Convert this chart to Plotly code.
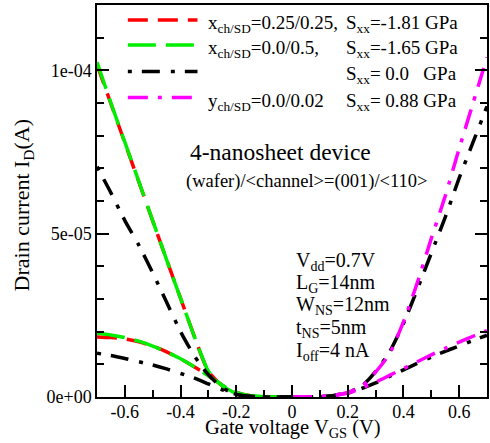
import plotly.graph_objects as go

# ---------------- data ----------------
vgs_left = [-0.70, -0.65, -0.60, -0.55, -0.50, -0.45, -0.40, -0.35, -0.30, -0.25, -0.20, -0.15, -0.10, -0.05, 0.0]
vgs_right = [0.0, 0.05, 0.10, 0.15, 0.20, 0.25, 0.30, 0.35, 0.40, 0.45, 0.50, 0.55, 0.60, 0.65, 0.70]

# x_ch/SD = 0.25/0.25 (red)
red_sat = [1.017e-4, 8.98e-5, 7.78e-5, 6.59e-5, 5.39e-5, 4.2e-5, 3.02e-5, 1.84e-5, 7.8e-6, 3.4e-6, 1.1e-6, 3e-7, 6e-8, 1e-8, 0.0]
red_lin = [1.84e-5, 1.82e-5, 1.78e-5, 1.69e-5, 1.56e-5, 1.38e-5, 1.17e-5, 9.2e-6, 6.5e-6, 3.6e-6, 1.4e-6, 4e-7, 8e-8, 1e-8, 0.0]
# x_ch/SD = 0.0/0.5 (green)
green_sat = [1.025e-4, 9.0e-5, 7.8e-5, 6.6e-5, 5.4e-5, 4.2e-5, 3.02e-5, 1.84e-5, 7.9e-6, 3.4e-6, 1.1e-6, 3e-7, 6e-8, 1e-8, 0.0]
green_lin = [1.95e-5, 1.9e-5, 1.82e-5, 1.71e-5, 1.56e-5, 1.38e-5, 1.17e-5, 9.2e-6, 6.5e-6, 3.6e-6, 1.4e-6, 4e-7, 8e-8, 1e-8, 0.0]
# unstrained (black)
black_sat_left = [7.05e-5, 6.25e-5, 5.4e-5, 4.65e-5, 3.8e-5, 2.9e-5, 2.0e-5, 1.25e-5, 6.8e-6, 2.8e-6, 8e-7, 2e-7, 4e-8, 1e-8, 0.0]
black_lin_left = [1.34e-5, 1.27e-5, 1.18e-5, 1.08e-5, 9.8e-6, 8.6e-6, 7.2e-6, 5.8e-6, 4.0e-6, 2.2e-6, 8e-7, 2e-7, 4e-8, 1e-8, 0.0]
black_sat_right = [0.0, 1e-8, 1e-7, 5e-7, 1.4e-6, 3.3e-6, 7.8e-6, 1.38e-5, 2.25e-5, 3.3e-5, 4.4e-5, 5.5e-5, 6.7e-5, 7.8e-5, 8.9e-5]
black_lin_right = [0.0, 1e-8, 1e-7, 4e-7, 1.2e-6, 2.6e-6, 4.3e-6, 6.3e-6, 8.3e-6, 1.03e-5, 1.22e-5, 1.4e-5, 1.56e-5, 1.73e-5, 1.89e-5]
# y_ch/SD = 0.0/0.02 (magenta)
mag_sat = [0.0, 1e-8, 1e-7, 5e-7, 1.4e-6, 3.2e-6, 7.6e-6, 1.32e-5, 2.3e-5, 3.5e-5, 4.85e-5, 6.15e-5, 7.6e-5, 9.0e-5, 1.04e-4]
mag_lin = [0.0, 1e-8, 1e-7, 4e-7, 1.2e-6, 2.7e-6, 4.5e-6, 6.6e-6, 8.7e-6, 1.08e-5, 1.29e-5, 1.49e-5, 1.68e-5, 1.86e-5, 2.03e-5]

x_tickvals = [-0.6, -0.4, -0.2, 0.0, 0.2, 0.4, 0.6]
x_ticktext = ["-0.6", "-0.4", "-0.2", "0", "0.2", "0.4", "0.6"]
y_tickvals = [0.0, 5e-5, 1e-4]
y_ticktext = ["0e+00", "5e-05", "1e-04"]

legend_left = ["x<sub>ch/SD</sub>=0.25/0.25,", "x<sub>ch/SD</sub>=0.0/0.5,", "", "y<sub>ch/SD</sub>=0.0/0.02"]
legend_right = ["S<sub>xx</sub>=-1.81 GPa", "S<sub>xx</sub>=-1.65 GPa", "S<sub>xx</sub>= 0.0   GPa", "S<sub>xx</sub>= 0.88 GPa"]
params = ["V<sub>dd</sub>=0.7V", "L<sub>G</sub>=14nm", "W<sub>NS</sub>=12nm", "t<sub>NS</sub>=5nm", "I<sub>off</sub>=4 nA"]

# ---------------- styles ----------------
RED = "#ff0000"
GREEN = "#00ee00"
BLACK = "#000000"
MAG = "#ff00ff"
DASH_RED = "20px,10px"
DASH_GREEN = "28px,10px"
DASH_BLACK = "4px,10px,18px,11px"
DASH_MAG = "20px,10px,4px,10px"
LW = 3.5
FONT = "Liberation Serif"

fig = go.Figure()

def add(x, y, color, dash):
    fig.add_trace(go.Scatter(x=x, y=y, mode="lines", line=dict(color=color, width=LW, dash=dash, shape="spline", smoothing=0.6),
                             showlegend=False, hoverinfo="skip"))

vgs_full = vgs_left + vgs_right[1:]
add(vgs_left, red_sat, RED, DASH_RED)
add(vgs_left, red_lin, RED, DASH_RED)
add(vgs_left, green_sat, GREEN, DASH_GREEN)
add(vgs_left, green_lin, GREEN, DASH_GREEN)
add(vgs_full, black_sat_left + black_sat_right[1:], BLACK, DASH_BLACK)
add(vgs_full, black_lin_left + black_lin_right[1:], BLACK, DASH_BLACK)
add(vgs_right, mag_sat, MAG, DASH_MAG)
add(vgs_right, mag_lin, MAG, DASH_MAG)

# plot area in pixels: x 97..489, y 5..397
L, R, T, B = 97, 489, 5, 397
def px(x):
    return (x - L) / (R - L)
def py(y):
    return (B - y) / (B - T)

shapes = []
annotations = []
rows_y = [20, 45, 71.5, 97.5]
colors = [RED, GREEN, BLACK, MAG]
dashes = [DASH_RED, DASH_GREEN, DASH_BLACK, DASH_MAG]
for i in range(4):
    shapes.append(dict(type="line", xref="paper", yref="paper", x0=px(128), x1=px(198), y0=py(rows_y[i]), y1=py(rows_y[i]),
                       line=dict(color=colors[i], width=LW, dash=dashes[i])))
    if legend_left[i]:
        annotations.append(dict(text=legend_left[i], xref="paper", yref="paper", x=px(207), y=py(rows_y[i] + 4),
                                xanchor="left", yanchor="middle", showarrow=False, font=dict(size=19)))
    annotations.append(dict(text=legend_right[i], xref="paper", yref="paper", x=px(345), y=py(rows_y[i] + 4),
                            xanchor="left", yanchor="middle", showarrow=False, font=dict(size=19)))

annotations.append(dict(text="4-nanosheet device", xref="paper", yref="paper", x=px(281), y=py(152),
                        xanchor="center", yanchor="middle", showarrow=False, font=dict(size=23.5)))
annotations.append(dict(text="(wafer)/&lt;channel&gt;=(001)/&lt;110&gt;", xref="paper", yref="paper", x=px(308), y=py(181),
                        xanchor="center", yanchor="middle", showarrow=False, font=dict(size=18.5)))
params_y = [261, 283, 305, 328, 351]
for t, yy in zip(params, params_y):
    annotations.append(dict(text=t, xref="paper", yref="paper", x=px(296), y=py(yy),
                            xanchor="left", yanchor="middle", showarrow=False, borderpad=0, font=dict(size=20)))

# axis titles
annotations.append(dict(text="Gate voltage V<sub>GS</sub> (V)", xref="paper", yref="paper", x=px(294), y=py(442),
                        xanchor="center", yanchor="bottom", showarrow=False, borderpad=0, font=dict(size=20.5)))
annotations.append(dict(text="Drain current I<sub>D</sub>(A)", xref="paper", yref="paper", x=px(23), y=py(205),
                        xanchor="center", yanchor="middle", textangle=-90, showarrow=False, font=dict(size=22)))

fig.update_layout(
    width=490, height=443,
    margin=dict(l=L, r=490 - R, t=T, b=443 - B),
    paper_bgcolor="white", plot_bgcolor="white",
    font=dict(family=FONT, size=19, color="black"),
    showlegend=False,
    shapes=shapes, annotations=annotations,
    xaxis=dict(range=[-0.7, 0.7], tickmode="array", tickvals=x_tickvals, ticktext=x_ticktext,
               ticks="inside", ticklen=12, tickwidth=1.5, tickcolor="black", ticklabelstandoff=-2,
               minor=dict(tickmode="linear", tick0=0, dtick=0.1, ticks="inside", ticklen=7, tickwidth=1.5, tickcolor="black"),
               showline=True, linecolor="black", linewidth=1.5, mirror=True,
               showgrid=False, zeroline=False, tickfont=dict(size=18)),
    yaxis=dict(range=[0, 1.2e-4], tickmode="array", tickvals=y_tickvals, ticktext=y_ticktext,
               ticks="inside", ticklen=12, tickwidth=1.5, tickcolor="black",
               minor=dict(tickmode="linear", tick0=0, dtick=1e-5, ticks="inside", ticklen=7, tickwidth=1.5, tickcolor="black"),
               showline=True, linecolor="black", linewidth=1.5, mirror="ticks",
               showgrid=False, zeroline=False, tickfont=dict(size=18)),
)

fig.write_html("out.html")
